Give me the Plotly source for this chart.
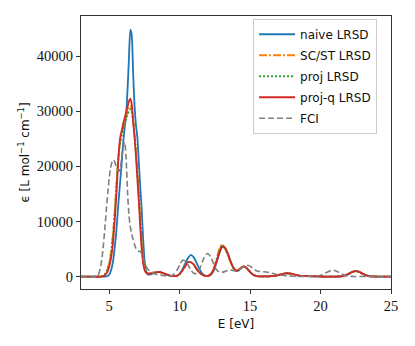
import plotly.graph_objects as go

# photon energy grid (eV), denser over the main band
E_main = [3.0, 3.5, 4.0, 4.1, 4.2, 4.3, 4.4, 4.5, 4.6, 4.7, 4.8, 4.9, 5.0, 5.1, 5.2,
          5.3, 5.4, 5.5, 5.6, 5.7, 5.8, 5.9, 6.0, 6.1, 6.2, 6.3, 6.4, 6.5, 6.6, 6.7,
          6.8, 6.9, 7.0, 7.1, 7.2, 7.3, 7.4, 7.5, 7.6, 7.7, 7.8, 7.9, 8.0]
E_mid = [8.2, 8.4, 8.6, 8.8, 9.0, 9.2, 9.4, 9.6, 9.8, 10.0, 10.2, 10.4, 10.6, 10.8,
         11.0, 11.2, 11.4, 11.6, 11.8, 12.0, 12.2, 12.4, 12.6, 12.8, 13.0, 13.2, 13.4,
         13.6, 13.8, 14.0, 14.2, 14.4, 14.6, 14.8, 15.0, 15.2, 15.4, 15.6, 15.8, 16.0]
E_tail = [16.25, 16.5, 16.75, 17.0, 17.25, 17.5, 17.75, 18.0, 18.25, 18.5, 18.75, 19.0,
          19.25, 19.5, 19.75, 20.0, 20.25, 20.5, 20.75, 21.0, 21.25, 21.5, 21.75, 22.0,
          22.25, 22.5, 22.75, 23.0, 23.25, 23.5, 23.75, 24.0, 24.25, 24.5, 24.75, 25.0]

# epsilon values (L mol^-1 cm^-1)
naive_main = [0, 0, 0, 0, 0, 0, 0, 0, 0, 20, 50, 120, 350, 900, 1800, 3200, 5500, 8000,
              11500, 14800, 17800, 21000, 24500, 27000, 29200, 33800, 39500, 44800, 43800,
              37000, 31000, 27500, 25300, 21000, 16500, 12500, 7300, 3300, 1200, 500, 350,
              380, 450]
naive_mid = [650, 800, 800, 650, 450, 250, 120, 80, 150, 500, 1300, 2400, 3400, 3950,
             3500, 2500, 1400, 600, 200, 100, 300, 1000, 2400, 4100, 5300, 5200, 4200,
             2800, 1600, 1000, 1100, 1600, 1800, 1400, 800, 350, 120, 50, 30, 30]

scst_main = [0, 0, 0, 0, 0, 0, 0, 80, 200, 450, 850, 1500, 2500, 3900, 5900, 8700, 12200,
             16200, 20000, 23000, 24800, 26000, 27000, 28000, 29000, 29900, 30700, 31000,
             30400, 28300, 25800, 22800, 19200, 15200, 10800, 6700, 3600, 1800, 950, 650,
             560, 570, 620]
scst_mid = [750, 830, 800, 650, 450, 250, 120, 80, 150, 450, 1100, 1900, 2650, 2600,
            2200, 1400, 750, 350, 150, 150, 450, 1300, 3000, 4900, 5850, 5200, 4000,
            2700, 1650, 1150, 1300, 1750, 1850, 1400, 850, 400, 150, 60, 30, 30]

proj_main = [0, 0, 0, 0, 0, 0, 0, 60, 180, 420, 800, 1400, 2300, 3700, 5600, 8300, 11800,
             15800, 19600, 22700, 24600, 25800, 26800, 27700, 28600, 29400, 30100, 30400,
             29900, 28000, 25600, 22600, 19000, 15000, 10600, 6600, 3500, 1750, 920, 630,
             550, 560, 610]
proj_mid = [750, 830, 800, 650, 450, 250, 120, 80, 150, 450, 1100, 1900, 2650, 2600,
            2200, 1400, 750, 350, 150, 150, 420, 1250, 2800, 4600, 5700, 5300, 4200,
            2850, 1700, 1100, 1250, 1700, 1850, 1450, 850, 400, 150, 60, 30, 30]

projq_main = [0, 0, 0, 0, 0, 0, 0, 30, 100, 250, 550, 1000, 1800, 2900, 4500, 7000, 10500,
              14500, 19000, 23200, 25500, 26600, 27800, 28800, 29800, 30800, 31800, 32300,
              31300, 28300, 25300, 21800, 17800, 13800, 9200, 5200, 2600, 1300, 750, 580,
              520, 550, 600]
projq_mid = [750, 830, 800, 650, 450, 250, 120, 80, 150, 450, 1100, 1900, 2650, 2600,
             2200, 1400, 750, 350, 150, 150, 400, 1200, 2600, 4200, 5450, 5300, 4300,
             2900, 1700, 1100, 1200, 1650, 1850, 1450, 850, 400, 150, 60, 30, 30]

# the four LRSD curves coincide above 16 eV
lrsd_tail = [40, 80, 150, 280, 440, 570, 600, 480, 300, 160, 90, 70, 70, 60, 40, 20, 10,
             10, 10, 10, 20, 60, 200, 500, 850, 1000, 850, 500, 220, 80, 30, 10, 0, 0, 0, 0]

fci_main = [0, 0, 0, 60, 250, 800, 1900, 3600, 6000, 9000, 12200, 15200, 17800, 19700,
            20800, 21200, 20800, 20000, 19300, 19100, 19900, 21800, 23800, 24400, 21500,
            15500, 11200, 9000, 7700, 6700, 5800, 5100, 4700, 4600, 4550, 4200, 3500, 2700,
            2000, 1500, 1200, 1050, 900]
fci_mid = [550, 380, 280, 200, 150, 100, 150, 450, 1100, 2100, 2950, 2850, 2100, 1200,
           600, 600, 1300, 2600, 3800, 4200, 3600, 2400, 1300, 850, 800, 900, 1100, 1200,
           1100, 1000, 1200, 1600, 1900, 2050, 1900, 1500, 1100, 950, 900, 880]
fci_tail = [800, 650, 500, 350, 250, 160, 100, 70, 50, 40, 30, 30, 40, 60, 120, 250, 500,
            850, 1100, 1100, 850, 480, 220, 90, 40, 20, 10, 10, 0, 0, 0, 0, 0, 0, 0, 0]

y_ticks = [0, 10000, 20000, 30000, 40000]
x_ticks = [5, 10, 15, 20, 25]


def main():
    E = E_main + E_mid + E_tail
    series = [
        ('naive LRSD', naive_main + naive_mid + lrsd_tail, '#1f77b4', 'solid', 1.8),
        ('SC/ST LRSD', scst_main + scst_mid + lrsd_tail, '#ff7f0e', '8px,2px,2px,2px', 1.8),
        ('proj LRSD', proj_main + proj_mid + lrsd_tail, '#2ca02c', '2px,2px', 1.8),
        ('proj-q LRSD', projq_main + projq_mid + lrsd_tail, '#d62728', 'solid', 1.8),
        ('FCI', fci_main + fci_mid + fci_tail, '#7f7f7f', '6px,3px', 1.6),
    ]

    fig = go.Figure()
    for name, vals, color, dash, width in series:
        fig.add_trace(go.Scatter(x=E, y=vals, mode='lines', name=name, legendgroup=name,
                                 line=dict(color=color, dash=dash, width=width,
                                           shape='spline', smoothing=0.6)))

    serif = 'Liberation Serif'
    sans = 'DejaVu Sans'
    axis_common = dict(showline=True, mirror=True, linecolor='#333', linewidth=1,
                       ticks='outside', ticklen=4, tickcolor='#333', showgrid=False,
                       zeroline=False,
                       tickfont=dict(family=serif, size=14.5, color='#111'))

    fig.update_xaxes(range=[3, 25], tickvals=x_ticks,
                     title=dict(text='E [eV]', standoff=6,
                                font=dict(family=sans, size=12, color='#111')),
                     **axis_common)
    fig.update_yaxes(range=[-2250, 47300], tickvals=y_ticks, tickformat='d',
                     title=dict(text='ϵ [L mol<sup>−1</sup> cm<sup>−1</sup>]', standoff=4,
                                font=dict(family=sans, size=12, color='#111')),
                     **axis_common)

    # page body adds an 8px offset, so the figure is a bit smaller than the window
    fig.update_layout(width=407, height=338,
                      margin=dict(l=73, r=24, t=8, b=57),
                      plot_bgcolor='white', paper_bgcolor='white',
                      legend=dict(x=0.955, y=0.99, xanchor='right', yanchor='top',
                                  bgcolor='rgba(255,255,255,0.8)', bordercolor='#ccc',
                                  borderwidth=1, tracegroupgap=2, itemwidth=36,
                                  font=dict(family=sans, size=12, color='#111')))

    fig.write_html("out.html")


if __name__ == "__main__":
    main()
